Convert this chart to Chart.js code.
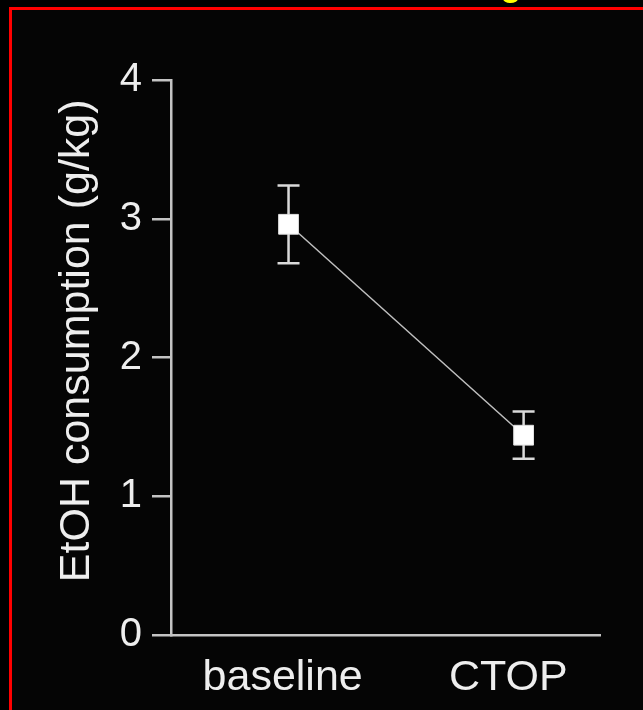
<!DOCTYPE html>
<html lang="en">
  <head>
    <meta charset="utf-8">
    <title>EtOH consumption</title>
    <style>
      html, body { margin: 0; padding: 0; background: #000; overflow: hidden; }
      #wrap { position: relative; width: 643px; height: 710px; }
      #frame { position: absolute; left: 9px; top: 7px; width: 700px; height: 800px;
               border: 3px solid #ff0000; background: #050505; box-sizing: border-box; }
      #dot { position: absolute; left: 503px; top: -6px; width: 15px; height: 9px;
             border-radius: 50%; background: #ffff00; }
      #graph { position: absolute; left: 0; top: 0; }
    </style>
  </head>
  <body>
    <div id="wrap">
      <div id="frame"></div>
      <div id="dot"></div>
      <canvas id="graph" width="643" height="710"></canvas>
    </div>

    <script src="https://cdn.jsdelivr.net/npm/chart.js@4.4.1/dist/chart.umd.min.js"></script>
    <script>
    // conditions and mean intake, with the top and bottom of each error bar
    var conditions = ['baseline', 'CTOP'];
    var xPos = [1, 3];
    var labelPos = [0.95, 2.87];
    var meanIntake = [2.96, 1.44];
    var errHigh = [3.24, 1.61];
    var errLow = [2.68, 1.27];
    var yTicks = [0, 1, 2, 3, 4];

    var font = '"Liberation Sans", Arial, sans-serif';
    var axisGray = '#c4c4c4';

    // vertical error bars with caps, drawn under the square markers
    var errorBars = {
      id: 'errorBars',
      beforeDatasetsDraw: function (chart) {
        var ctx = chart.ctx;
        var xs = chart.scales.x, ys = chart.scales.y;
        ctx.save();
        ctx.strokeStyle = '#dadada';
        ctx.lineWidth = 2.5;
        for (var i = 0; i < xPos.length; i++) {
          var x = xs.getPixelForValue(xPos[i]);
          var top = ys.getPixelForValue(errHigh[i]);
          var bot = ys.getPixelForValue(errLow[i]);
          ctx.beginPath();
          ctx.moveTo(x, top); ctx.lineTo(x, bot);
          ctx.moveTo(x - 11, top); ctx.lineTo(x + 11, top);
          ctx.moveTo(x - 11, bot); ctx.lineTo(x + 11, bot);
          ctx.stroke();
        }
        ctx.restore();
      }
    };

    var ctx = document.getElementById('graph').getContext('2d');
    var chart = new Chart(ctx, {
      type: 'line',
      data: {
        datasets: [{
          data: xPos.map(function (x, i) { return { x: x, y: meanIntake[i] }; }),
          borderColor: '#c0c0c0',
          borderWidth: 1.5,
          pointStyle: 'rect',
          pointRadius: 14,
          pointBackgroundColor: '#ffffff',
          pointBorderColor: '#e0e0e0',
          pointBorderWidth: 1
        }]
      },
      options: {
        responsive: false,
        animation: false,
        layout: { padding: { top: 80, right: 43, left: 0, bottom: 0 } },
        plugins: { legend: { display: false }, tooltip: { enabled: false } },
        scales: {
          x: {
            type: 'linear',
            min: 0,
            max: 3.65,
            afterFit: function (scale) { scale.height = 75; },
            afterBuildTicks: function (scale) {
              scale.ticks = labelPos.map(function (v) { return { value: v }; });
            },
            grid: { display: false },
            border: { display: true, color: axisGray, width: 2.5 },
            ticks: {
              color: '#eeeeee',
              font: { family: font, size: 43 },
              padding: 9,
              maxRotation: 0,
              callback: function (v) { return conditions[labelPos.indexOf(v)]; }
            }
          },
          y: {
            min: 0,
            max: 4,
            afterFit: function (scale) { scale.width = 171; },
            afterBuildTicks: function (scale) {
              scale.ticks = yTicks.map(function (v) { return { value: v }; });
            },
            grid: { drawOnChartArea: false, color: axisGray, lineWidth: 2.5, tickLength: 19 },
            border: { color: axisGray, width: 2.5 },
            ticks: {
              color: '#eeeeee',
              font: { family: font, size: 40 },
              padding: 10
            },
            title: {
              display: true,
              // leading en space + space lifts the rotated title a little
              text: '\u2002 EtOH consumption (g/kg)',
              color: '#eeeeee',
              font: { family: font, size: 43 },
              padding: { top: 51, bottom: 0 }
            }
          }
        }
      },
      plugins: [errorBars]
    });
    </script>
  </body>
</html>
